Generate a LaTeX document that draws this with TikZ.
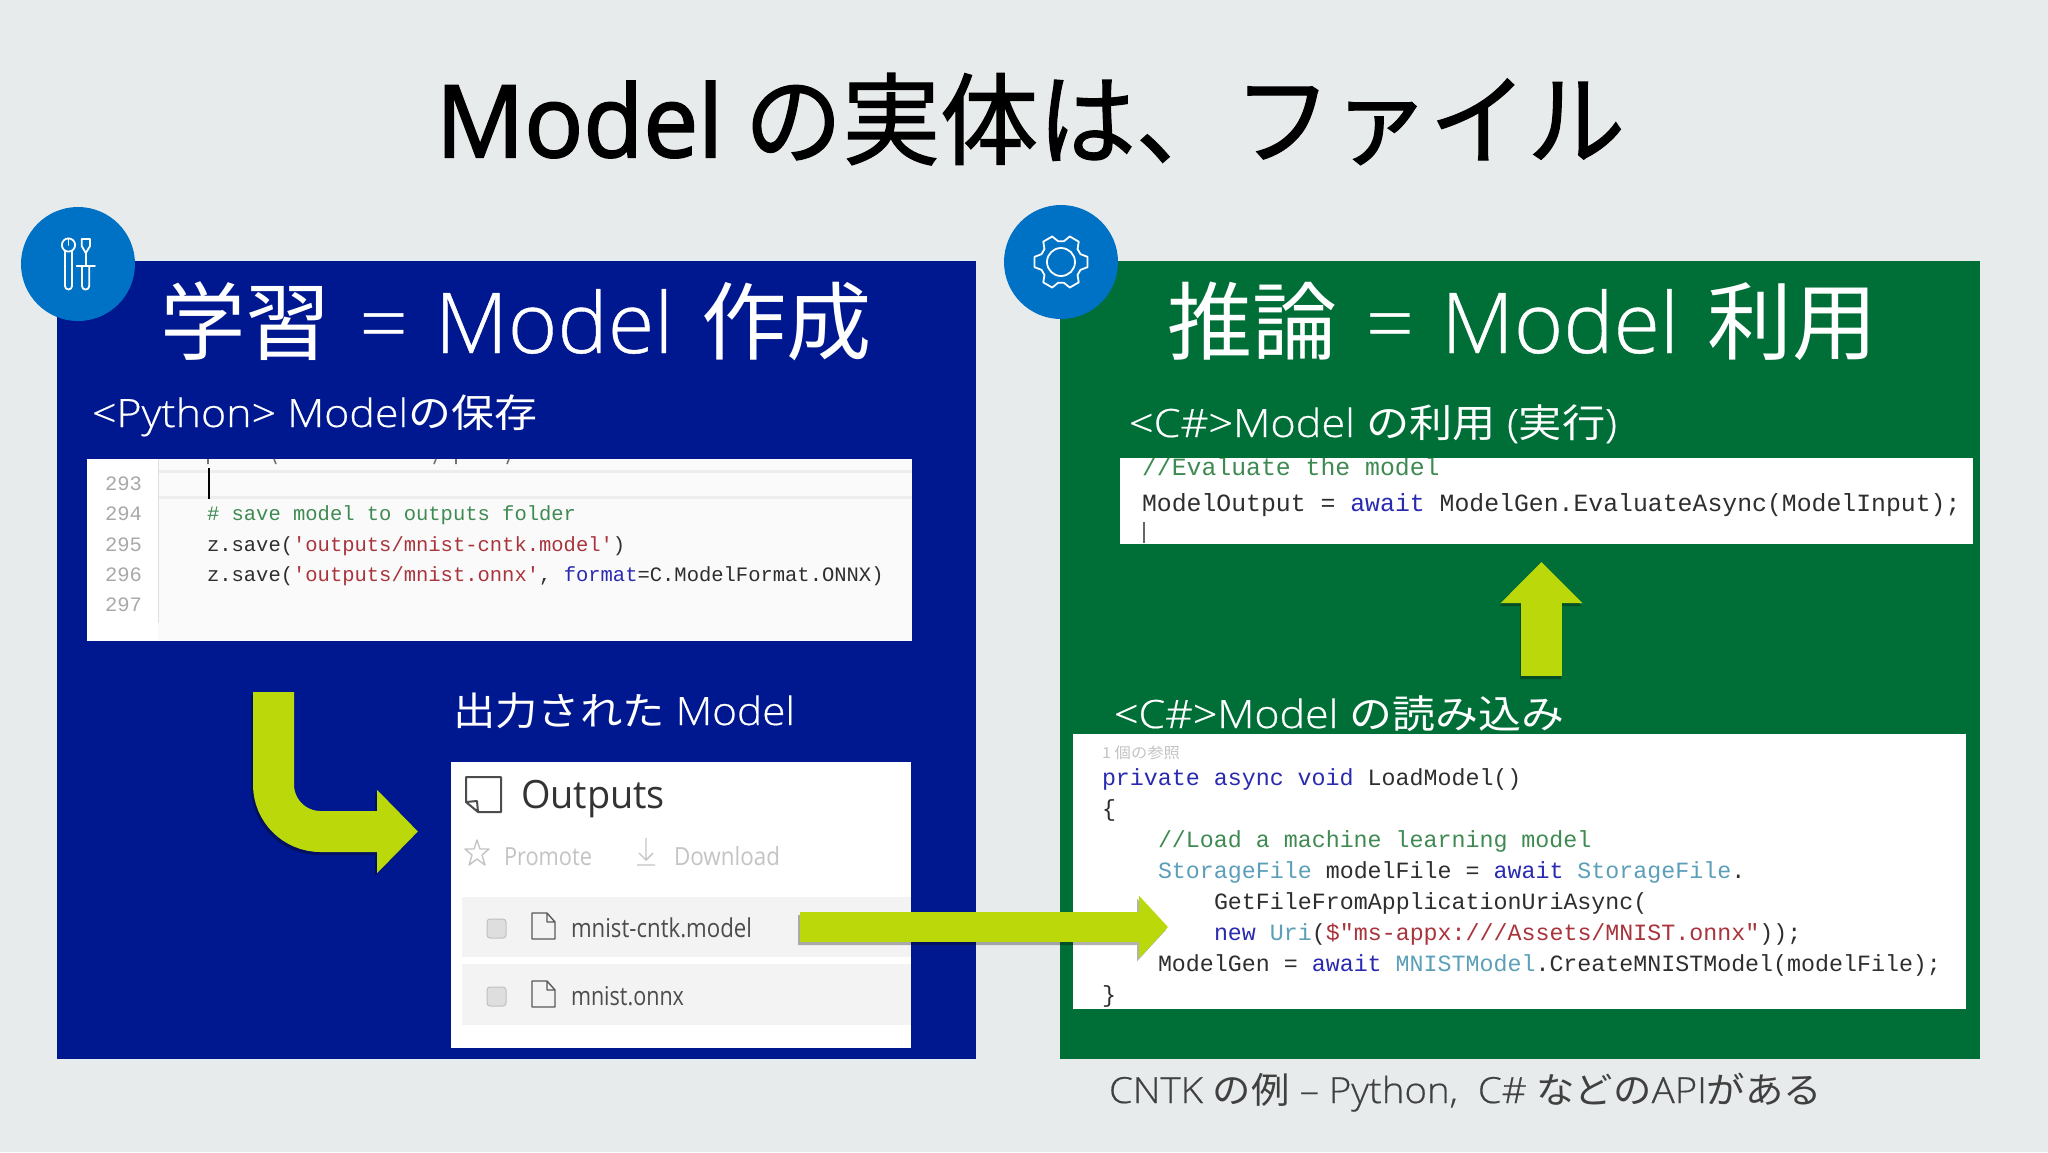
\documentclass[tikz,border=0pt]{standalone}
\usepackage{fontspec}
\usepackage{graphicx}
\usetikzlibrary{arrows.meta,calc}
\newfontfamily\lat{Open Sans Light}[FakeBold=0.5]
\newfontfamily\latr{Open Sans}
\newfontfamily\latb{Open Sans}[FakeBold=2]
\newfontfamily\cjk{Noto Sans CJK JP}
\newfontfamily\cjkb{Noto Sans CJK JP}[FakeBold=1.2]
\newfontfamily\code{Liberation Mono}
\definecolor{bgc}{HTML}{E8EBEB}
\definecolor{navy}{HTML}{00188F}
\definecolor{leaf}{HTML}{006F37}
\definecolor{disc}{HTML}{0072C6}
\definecolor{lime}{HTML}{BAD80A}
\definecolor{kw}{HTML}{2A2AB0}
\definecolor{typ}{HTML}{5C9FB8}
\definecolor{cmt}{HTML}{3F8A52}
\definecolor{str}{HTML}{A8343C}
\definecolor{lno}{HTML}{A9A9A9}
\definecolor{cod}{HTML}{2E2E2E}
\definecolor{rowc}{HTML}{F3F3F4}
\definecolor{dim}{HTML}{C4C4C4}
\newcommand{\fitw}[2]{\resizebox{#1pt}{\height}{#2}}
\newcommand{\ckw}[1]{\textcolor{kw}{#1}}
\newcommand{\ctyp}[1]{\textcolor{typ}{#1}}
\newcommand{\ccmt}[1]{\textcolor{cmt}{#1}}
\newcommand{\cstr}[1]{\textcolor{str}{#1}}
\newcommand{\headline}[2]{{\cjk\fontsize{85}{96}\selectfont #1}\hspace{29pt}{\lat\fontsize{84}{96}\selectfont =}\hspace{27pt}\fitw{238}{\lat\fontsize{84}{96}\selectfont Model}\hspace{28pt}{\cjk\fontsize{85}{96}\selectfont #2}}
\tikzset{
  x=1pt,y=-1pt,
  lab/.style={anchor=base west,inner sep=0pt,outer sep=0pt},
  box/.style={anchor=north west,inner sep=0pt,outer sep=0pt},
  py/.style={lab,font=\code\fontsize{20.5}{24}\selectfont,text=cod},
  gutter/.style={lab,font=\code\fontsize{20.5}{24}\selectfont,text=lno},
  csa/.style={lab,font=\code\fontsize{24.8}{28}\selectfont,text=cod},
  csb/.style={lab,font=\code\fontsize{23.3}{28}\selectfont,text=cod},
  file/.style={draw=black!65,line width=1.4pt,fill=none,line join=round},
  check/.style={draw=black!25,fill=black!13,line width=1pt,rounded corners=3pt},
  blockhead/.style n args={2}{-{Triangle[length=#1pt,width=#2pt]}},
}
\newcommand{\fileicon}[1]{%
  \draw[file,shift={(#1)}] (0,0) -- (15,0) -- (23,9) -- (23,26) -- (0,26) -- cycle (15,0) -- (15,9) -- (23,9);}
\begin{document}
\begin{tikzpicture}
\useasboundingbox (0,0) rectangle (2048,1152);
\fill[bgc] (0,0) rectangle (2048,1152);

% Title
\node[lab,font=\fontsize{100}{110}\selectfont] (title) at (436,157)
  {\fitw{1189}{\latb Model\hspace{22pt}\cjkb の実体は、ファイル}};

% Panels
\node[box,fill=navy,minimum width=919pt,minimum height=798pt] (learn) at (57,261) {};
\node[box,fill=leaf,minimum width=920pt,minimum height=798pt] (infer) at (1060,261) {};

% Disc icons
\node[circle,fill=disc,minimum size=114pt,inner sep=0pt] (discL) at (78,264) {};
\node[circle,fill=disc,minimum size=114pt,inner sep=0pt] (discR) at (1061,262) {};
\begin{scope}[draw=white,line width=1.8pt,line join=round,line cap=round]
  % spanner
  \draw (68.5,245) circle [radius=6.6];
  \draw (68.5,238.5) -- (68.5,245);
  \draw (65,251) -- (65,286) arc[start angle=180,end angle=0,x radius=3.5,y radius=3.5] -- (72,251);
  % screwdriver
  \draw (81.7,239) -- (90,239) -- (90,246) -- (85.8,253) -- (81.7,246) -- cycle;
  \draw (85.8,253) -- (85.8,266);
  \draw (76.7,266) -- (95,266);
  \draw (82,266) -- (82,286) arc[start angle=180,end angle=0,x radius=3.6,y radius=3.6] -- (89.2,266);
\end{scope}
\begin{scope}[shift={(1061,262)},draw=white,line width=1.8pt,line join=round]
  \draw (0,0) circle [radius=14];
  \draw (-11:27) \foreach \a in {0,60,...,300} { -- (\a-11:27) -- (\a+11:27) -- (\a+22:21) -- (\a+38:21)} -- cycle;
\end{scope}

% Headings
\node[lab,text=white] (headL) at (160,353)
  {\fitw{712}{\headline{学習}{作成}}};
\node[lab,text=white] (headR) at (1167,353)
  {\fitw{710}{\headline{推論}{利用}}};
\node[lab,text=white,font=\fontsize{39}{46}\selectfont] (pyLabel) at (92,427)
  {\fitw{445}{\lat <Python> Model\cjk の保存}};
\node[lab,text=white,font=\fontsize{39}{46}\selectfont] (useLabel) at (1129,437)
  {\fitw{488}{\lat <C\#>Model \cjk の利用\lat{} (\cjk 実行\lat )}};
\node[lab,text=white,font=\fontsize{39}{46}\selectfont] (outLabel) at (453,725)
  {\fitw{342}{\cjk 出力された\lat{} Model}};
\node[lab,text=white,font=\fontsize{39}{46}\selectfont] (loadLabel) at (1114,728)
  {\fitw{450}{\lat <C\#>Model \cjk の読み込み}};
\node[lab,text=black!75,font=\fontsize{36}{42}\selectfont] (note) at (1109,1103)
  {\fitw{713}{\lat CNTK \cjk の例\lat{} – Python,\ \ C\# \cjk などの\lat API\cjk がある}};

% Python code box
\node[box,fill=white,minimum width=825pt,minimum height=182pt] (pyBox) at (87,459) {};
\fill[black!2] (158,459) rectangle (912,641);
\fill[white] (87,459) rectangle (158,641);
\draw[black!7,line width=3pt] (158,471) -- (912,471) (158,497) -- (912,497);
\draw[black!12,line width=1pt] (158,459) -- (158,623);
\draw[black,line width=2pt] (208.5,468) -- (208.5,499);
\draw[black!55,line width=1.6pt] (208,459) -- (208,464) (274,459) -- (276,464) (434,464) -- (436,459) (456,459) -- (456,464) (507,464) -- (509,459);
\node[gutter] (n293) at (105,490.5) {293};
\node[gutter] (n294) at (105,520.5) {294};
\node[gutter] (n295) at (105,551) {295};
\node[gutter] (n296) at (105,581.5) {296};
\node[gutter] (n297) at (105,611.5) {297};
\node[py] (p1) at (207,520.5) {\ccmt{\# save model to outputs folder}};
\node[py] (p2) at (207,551) {z.save(\cstr{'outputs/mnist-cntk.model'})};
\node[py] (p3) at (207,581.5) {z.save(\cstr{'outputs/mnist.onnx'}, \ckw{format}=C.ModelFormat.ONNX)};

% Outputs box
\node[box,fill=white,minimum width=460pt,minimum height=286pt] (outBox) at (451,762) {};
\draw[black!70,line width=2pt,line join=round] (466,802) -- (466,777) -- (501,777) -- (501,812) -- (478,812) -- cycle (466,802) -- (477,801) -- (478,812);
\node[lab,text=black!80,font=\latr\fontsize{39}{44}\selectfont] (outTitle) at (521,808) {\fitw{144}{Outputs}};
\draw[dim,line width=1.4pt,line join=round,shift={(477,853)}] (0,-13) -- (3,-4) -- (12,-4) -- (5,2) -- (8,12) -- (0,6) -- (-8,12) -- (-5,2) -- (-12,-4) -- (-3,-4) -- cycle;
\node[lab,text=dim,font=\latr\fontsize{25}{30}\selectfont] (promote) at (504,865) {\fitw{88}{Promote}};
\draw[dim,line width=1.4pt] (646,838) -- (646,860) (639,853) -- (646,860) -- (653,853) (637,865) -- (655,865);
\node[lab,text=dim,font=\latr\fontsize{25}{30}\selectfont] (download) at (674,865) {\fitw{106}{Download}};
\node[box,fill=rowc,minimum width=449pt,minimum height=60pt] (row1) at (462,897) {};
\node[box,fill=rowc,minimum width=449pt,minimum height=61pt] (row2) at (462,964) {};
\node[box,check,minimum width=19pt,minimum height=19pt] (check1) at (487,919) {};
\node[box,check,minimum width=19pt,minimum height=19pt] (check2) at (487,987) {};
\fileicon{532,913}
\fileicon{532,981}
\node[lab,text=black!70,font=\latr\fontsize{26}{30}\selectfont] (f1) at (571,937) {\fitw{181}{mnist-cntk.model}};
\node[lab,text=black!70,font=\latr\fontsize{26}{30}\selectfont] (f2) at (571,1005) {\fitw{113}{mnist.onnx}};

% C# run box
\node[box,fill=white,minimum width=853pt,minimum height=86pt] (runBox) at (1120,458) {};
\begin{scope}
  \clip (1120,458) rectangle (1973,544);
  \node[csa] (r1) at (1142,475) {\ccmt{//Evaluate the model}};
\end{scope}
\node[csa] (r2) at (1142,511) {ModelOutput = \ckw{await} ModelGen.EvaluateAsync(ModelInput);};
\draw[black!60,line width=1.2pt] (1144,522) -- (1144,543);

% C# load box
\node[box,fill=white,minimum width=893pt,minimum height=275pt] (loadBox) at (1073,734) {};
\node[lab,text=dim,font=\cjk\fontsize{15}{18}\selectfont] (refs) at (1102,758) {\fitw{78}{1 個の参照}};
\node[csb] (l1) at (1102,785) {\ckw{private async void} LoadModel()};
\node[csb] (l2) at (1102,816) {\{};
\node[csb] (l3) at (1158,847) {\ccmt{//Load a machine learning model}};
\node[csb] (l4) at (1158,878) {\ctyp{StorageFile} modelFile = \ckw{await} \ctyp{StorageFile}.};
\node[csb] (l5) at (1214,909) {GetFileFromApplicationUriAsync(};
\node[csb] (l6) at (1214,940) {\ckw{new} \ctyp{Uri}(\cstr{\$"ms-appx:///Assets/MNIST.onnx"}));};
\node[csb] (l7) at (1158,971) {ModelGen = \ckw{await} \ctyp{MNISTModel}.CreateMNISTModel(modelFile);};
\begin{scope}
  \clip (1073,734) rectangle (1966,1009);
  \node[csb] (l8) at (1102,1002) {\}};
\end{scope}

% Block arrows
\coordinate (bendStart) at (273.5,692);
\coordinate (bendTip) at (418,831.5);
\coordinate (acrossStart) at (800,927);
\coordinate (acrossTip) at (1168,927);
\coordinate (upStart) at (1541.5,676);
\coordinate (upTip) at (1541.5,562);
\begin{scope}[transparency group,opacity=.3]
  \draw[black,line width=41pt,rounded corners=47pt,blockhead={41}{81},transform canvas={shift={(-2pt,-3pt)}}] (bendStart) |- (bendTip);
  \draw[black,line width=30pt,blockhead={29}{61},transform canvas={shift={(-2pt,-3pt)}}] (acrossStart) -- (acrossTip);
  \draw[black,line width=41pt,blockhead={41}{79},transform canvas={shift={(-1pt,-3pt)}}] (upStart) -- (upTip);
\end{scope}
\draw[lime,line width=41pt,rounded corners=47pt,blockhead={41}{81}] (bendStart) |- (bendTip);
\draw[lime,line width=30pt,blockhead={29}{61}] (acrossStart) -- (acrossTip);
\draw[lime,line width=41pt,blockhead={41}{79}] (upStart) -- (upTip);
\end{tikzpicture}
\end{document}
